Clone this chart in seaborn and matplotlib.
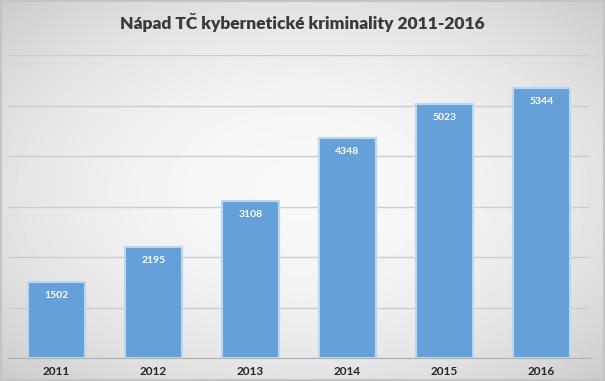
import numpy as np
import pandas as pd
import matplotlib.pyplot as plt
import seaborn as sns

# Data
years = ["2011", "2012", "2013", "2014", "2015", "2016"]
cases = [1502, 2195, 3108, 4348, 5023, 5344]
title = "Nápad TČ kybernetické kriminality 2011-2016"

df = pd.DataFrame({"rok": years, "pocet": cases})

sns.set_style("white")
plt.rcParams['font.family'] = ['Lato', 'DejaVu Sans']

fig = plt.figure(figsize=(6.05, 3.81), dpi=100)

# radial grey background like the Excel chart
bg = fig.add_axes([0, 0, 1, 1], zorder=-1)
yy, xx = np.mgrid[-1:1:381j, -1:1:605j]
r2 = xx ** 2 + yy ** 2
shade = 0.975 - 0.09 * r2
bg.imshow(shade, cmap="gray", vmin=0, vmax=1, aspect="auto", extent=[0, 1, 0, 1])
bg.set_axis_off()
# thin frame around the whole chart
fig.patches.append(plt.Rectangle((0.002, 0.003), 0.996, 0.994, transform=fig.transFigure,
                                 fill=False, edgecolor="#c4c4c4", linewidth=1.5))

ax = fig.add_axes([8 / 605, 23 / 381, 582 / 605, 303 / 381])
ax.set_facecolor("none")
sns.barplot(data=df, x="rok", y="pocet", color="#65a0d8", width=0.59,
            edgecolor="#bcd6ee", linewidth=1.5, saturation=1, ax=ax, zorder=3)

ax.bar_label(ax.containers[0], padding=-13, color="white", fontsize=7.5,
             fontweight="bold")

ax.set_ylim(0, 6000)
ax.set_yticks(range(0, 6001, 1000))
ax.set_yticklabels([])
ax.tick_params(axis="y", length=0)
ax.tick_params(axis="x", length=0, pad=6)
for lbl in ax.get_xticklabels():
    lbl.set_fontweight("bold")
    lbl.set_fontsize(8.5)
    lbl.set_color("#262626")
ax.grid(axis="y", color="#cdcdcd", linewidth=1, zorder=0)
for s in ["top", "right", "left"]:
    ax.spines[s].set_visible(False)
ax.spines["bottom"].set_color("#b0b0b0")
ax.set_xlabel("")
ax.set_ylabel("")

fig.text(0.5, 1 - 23 / 381, title, ha="center", va="center", fontsize=12.5,
         fontweight="heavy", color="#3a3a3a")

fig.savefig("out.png", dpi=100)
